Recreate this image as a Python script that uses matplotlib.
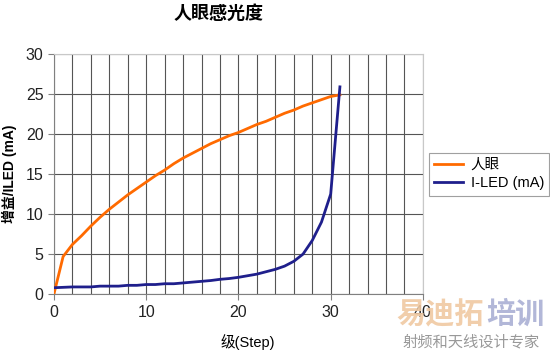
import matplotlib.pyplot as plt
import numpy as np

plt.rcParams['font.family'] = ['Liberation Sans', 'Noto Sans CJK SC', 'DejaVu Sans']

steps = np.arange(0, 32)
eye = [0, 4.7, 6.2, 7.3, 8.5, 9.6, 10.6, 11.5, 12.4, 13.2, 14.0, 14.8, 15.5, 16.3,
       17.0, 17.6, 18.2, 18.8, 19.3, 19.8, 20.2, 20.7, 21.2, 21.6, 22.1, 22.6,
       23.0, 23.5, 23.9, 24.3, 24.7, 24.9]
iled = [0.8, 0.85, 0.9, 0.9, 0.9, 1.0, 1.0, 1.0, 1.1, 1.1, 1.2, 1.2, 1.3, 1.3,
        1.4, 1.5, 1.6, 1.7, 1.85, 1.95, 2.1, 2.3, 2.5, 2.8, 3.1, 3.5, 4.1, 5.0,
        6.7, 9.0, 12.5, 25.9]

fig = plt.figure(figsize=(5.5, 3.51), dpi=100)
ax = fig.add_axes([0.098, 0.162, 0.671, 0.684])

ax.plot(steps, eye, color='#ff6a00', lw=2, label='人眼', zorder=3)
ax.plot(steps, iled, color='#1f1f8c', lw=2, label='I-LED (mA)', zorder=3)

ax.set_xlim(0, 40)
ax.set_ylim(0, 30)
ax.set_xticks(np.arange(0, 41, 10))
ax.set_xticks(np.arange(0, 41, 2), minor=True)
ax.set_yticks(np.arange(0, 31, 5))
ax.grid(True, which='both', axis='x', color='#555555', lw=0.8)
ax.grid(True, which='major', axis='y', color='#555555', lw=0.8)
ax.tick_params(axis='both', which='major', direction='out', length=4,
               color='#808080', labelsize=11.5, labelcolor='#222222')
ax.tick_params(axis='x', which='minor', length=0)
for s in ['left', 'bottom']:
    ax.spines[s].set_color('#808080')
for s in ['top', 'right']:
    ax.spines[s].set_color('#c8c8c8')

ax.set_ylabel('增益/ILED (mA)', fontsize=10, fontweight='bold', labelpad=6)
fig.text(248 / 550, 1 - 342 / 351, '级(Step)', ha='center', va='center',
         fontsize=10.5)
fig.text(219 / 550, 1 - 14 / 351, '人眼感光度', ha='center', va='center',
         fontsize=13, fontweight='bold')

leg = fig.legend(loc='upper left', bbox_to_anchor=(429 / 550, 1 - 153 / 351),
                 fontsize=10.5, frameon=True, fancybox=False, handlelength=2.0,
                 borderpad=0.35, labelspacing=0.3, handletextpad=0.5,
                 borderaxespad=0)
leg.get_frame().set_edgecolor('#888888')
leg.get_frame().set_linewidth(0.8)

# watermark
fig.text(396 / 550, 1 - 315 / 351, '易迪拓', fontsize=21, fontweight='bold',
         color='#f0c9a2', va='center', ha='left', alpha=0.9)
fig.text(486 / 550, 1 - 315 / 351, '培训', fontsize=21, fontweight='bold',
         color='#aab0d4', va='center', ha='left', alpha=0.9)
fig.text(471 / 550, 1 - 342 / 351, '射频和天线设计专家', fontsize=11,
         color='#999999', va='center', ha='center')

fig.savefig('out.png', dpi=100)
